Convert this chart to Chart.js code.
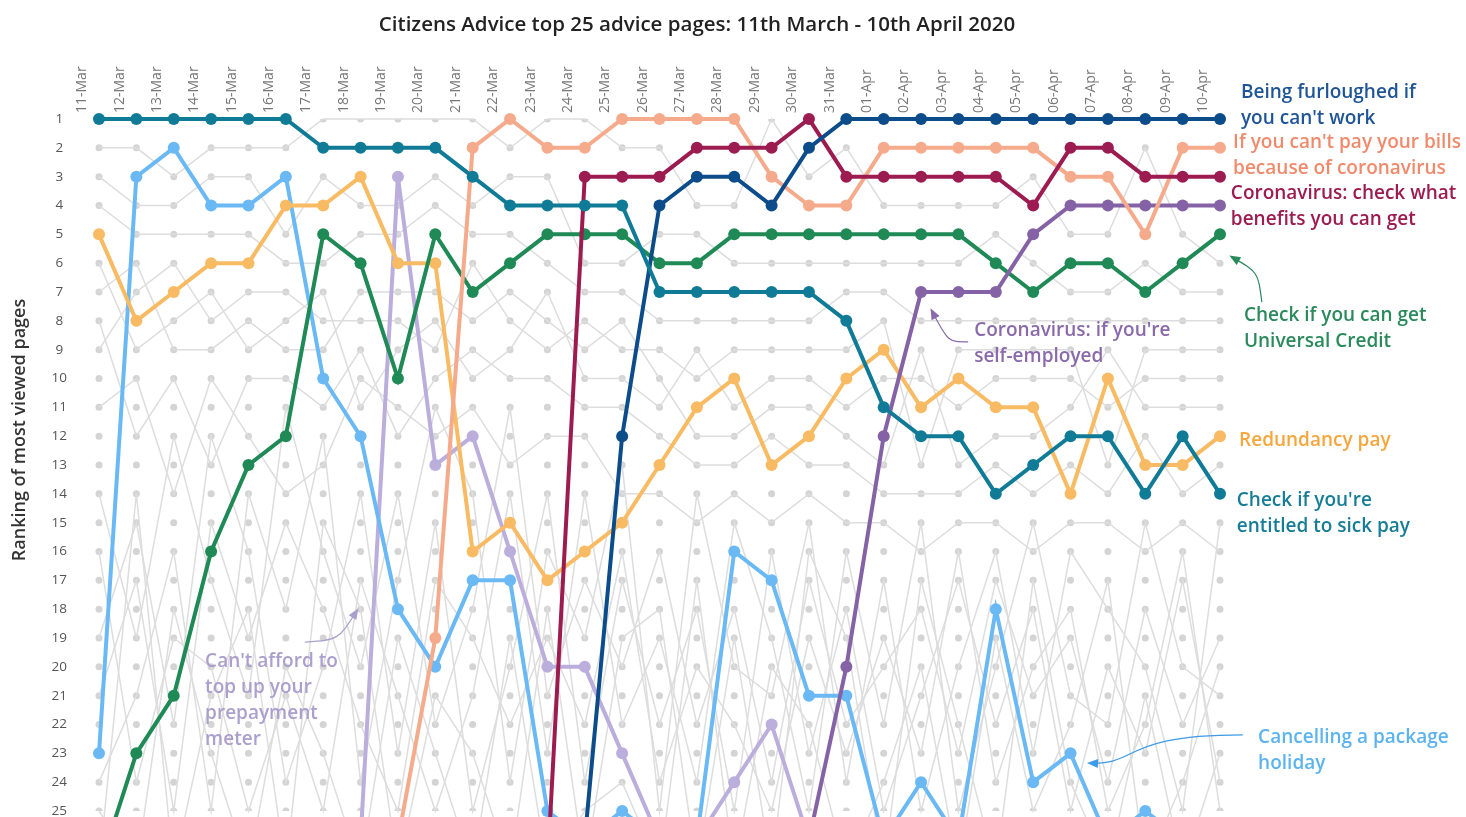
<!DOCTYPE html>
<html>
<head>
<meta charset="utf-8">
<script src="https://cdn.jsdelivr.net/npm/chart.js@4.4.1/dist/chart.umd.min.js"></script>
<style>
	html, body { margin: 0; padding: 0; background: #fff; }
	#wrap { width: 1466px; height: 817px; position: relative; }
</style>
</head>
<body>
<div id="wrap"><canvas id="rankChart"></canvas></div>
<script>
// dates along the top, ranks down the side
var dates = ['11-Mar','12-Mar','13-Mar','14-Mar','15-Mar','16-Mar','17-Mar','18-Mar','19-Mar','20-Mar',
	'21-Mar','22-Mar','23-Mar','24-Mar','25-Mar','26-Mar','27-Mar','28-Mar','29-Mar','30-Mar','31-Mar',
	'01-Apr','02-Apr','03-Apr','04-Apr','05-Apr','06-Apr','07-Apr','08-Apr','09-Apr','10-Apr'];
var rankTicks = [1,2,3,4,5,6,7,8,9,10,11,12,13,14,15,16,17,18,19,20,21,22,23,24,25];

// highlighted pages (rank per day, 26+ = just outside the top 25)
var furloughed = [null,null,null,null,null,null,null,null,null,null,null,null,null,26,12,4,3,3,4,2,1,1,1,1,1,1,1,1,1,1,1];
var unpaidBills = [null,null,null,null,null,null,null,null,26,19,2,1,2,2,1,1,1,1,3,4,4,2,2,2,2,2,3,3,5,2,2];
var checkBenefits = [null,null,null,null,null,null,null,null,null,null,null,null,27,3,3,3,2,2,2,1,3,3,3,3,3,4,2,2,3,3,3];
var selfEmployed = [null,null,null,null,null,null,null,null,null,null,null,null,null,null,null,null,null,null,null,26,20,12,7,7,7,5,4,4,4,4,4];
var universalCredit = [27,23,21,16,13,12,5,6,10,5,7,6,5,5,5,6,6,5,5,5,5,5,5,5,6,7,6,6,7,6,5];
var redundancyPay = [5,8,7,6,6,4,4,3,6,6,16,15,17,16,15,13,11,10,13,12,10,9,11,10,11,11,14,10,13,13,12];
var sickPay = [1,1,1,1,1,1,2,2,2,2,3,4,4,4,4,7,7,7,7,7,8,11,12,12,14,13,12,12,14,12,14];
var packageHoliday = [23,3,2,4,4,3,10,12,18,20,17,17,25,26,25,26,26,16,17,21,21,26,24,26,18,24,23,26,25,26,26];
var prepaymentMeter = [null,null,null,null,null,null,null,26,3,13,12,16,20,20,23,26,26,24,22,26,null,null,null,null,null,null,null,null,null,null,null];

// other pages in the top 25 (grey background)
var other1 = [2,2,3,2,2,2,1,1,1,1,1,2,1,1,2,2,4,4,1,3,2,4,4,4,4,3,5,5,2,5,6];
var other2 = [3,4,4,3,3,5,3,4,4,3,4,3,3,6,6,5,5,6,6,6,6,6,6,6,5,6,7,7,6,7,7];
var other3 = [4,5,5,5,5,6,6,5,5,4,5,5,6,7,7,8,8,8,8,8,7,7,8,8,8,8,8,8,8,8,8];
var other4 = [6,9,8,7,9,8,7,11,9,8,10,9,7,10,10,11,9,11,10,10,11,10,10,11,10,10,10,11,10,10,10];
var other5 = [7,6,9,9,8,9,9,7,7,7,8,7,8,9,8,10,12,12,11,11,12,13,9,13,12,12,11,9,11,11,11];
var other6 = [9,7,6,8,7,7,8,8,8,9,6,8,9,8,9,9,10,9,9,9,9,8,13,9,9,9,9,13,9,9,9];
var other7 = [8,12,10,13,10,10,11,9,12,10,9,10,10,11,11,12,13,13,12,13,13,14,14,14,13,14,13,14,12,14,13];
var other8 = [11,10,14,10,12,14,13,10,11,12,11,13,12,12,14,14,15,14,15,14,15,15,16,15,15,16,15,15,16,15,16];
var other9 = [14,19,12,17,21,11,16,20,14,22,18,11,21,17,20,16,22,18,24,17,22,20,18,23,17,21,19,24,18,22,19];
var other10 = [19,15,22,12,16,24,20,14,23,15,25,20,14,24,17,22,18,25,16,23,18,25,21,17,22,18,25,20,23,17,24];
var other11 = [24,21,16,25,14,18,12,24,17,11,14,24,16,19,13,25,14,20,21,15,24,17,25,20,16,23,16,18,20,25,15];
var other12 = [16,24,19,20,25,21,25,17,21,25,21,14,23,14,22,19,24,15,19,25,16,22,15,25,20,15,21,22,15,20,21];
var other13 = [21,17,25,15,19,15,18,22,25,17,19,22,19,22,16,24,20,22,25,19,23,19,23,16,24,20,18,25,22,16,25];
var other14 = [25,27,18,23,27,20,23,27,19,23,27,19,27,25,24,27,17,27,20,22,27,24,20,27,19,25,22,17,27,24,20];
var other15 = [27,14,27,21,18,27,15,18,27,21,23,27,18,27,19,18,27,19,27,16,19,27,17,22,27,17,24,27,21,27,23];

var highlighted = [
	{ data: sickPay, color: '#107b96' },
	{ data: furloughed, color: '#0c4c8a' },
	{ data: checkBenefits, color: '#9c1b50' },
	{ data: unpaidBills, color: '#f6aa8c' },
	{ data: selfEmployed, color: '#8562a6' },
	{ data: universalCredit, color: '#1f8a56' },
	{ data: redundancyPay, color: '#f8bb64' },
	{ data: packageHoliday, color: '#6ab9f5' },
	{ data: prepaymentMeter, color: '#bbaedc' }
];
var others = [other1, other2, other3, other4, other5, other6, other7, other8,
	other9, other10, other11, other12, other13, other14, other15];

var datasets = [];
highlighted.forEach(function(h, i){
	datasets.push({
		data: h.data,
		borderColor: h.color,
		backgroundColor: h.color,
		borderWidth: 4,
		pointRadius: 6,
		pointBorderWidth: 0,
		pointBackgroundColor: h.color,
		spanGaps: false,
		clip: false,
		order: i
	});
});
others.forEach(function(o){
	datasets.push({
		data: o,
		borderColor: '#dddddd',
		borderWidth: 1.5,
		pointRadius: 0,
		clip: false,
		order: 20
	});
});
// grey dot at every rank slot of every day
var grid = [];
dates.forEach(function(d){
	rankTicks.forEach(function(r){ grid.push({ x: d, y: r }); });
});
datasets.push({
	data: grid,
	showLine: false,
	pointRadius: 3.5,
	pointBorderWidth: 0,
	pointBackgroundColor: '#d4d4d4',
	order: 30
});

// labels and arrows, in data coordinates (x = day index, y = rank)
var notes = [
	{ lines: ['Being furloughed if', "you can't work"], x: 30.56, y: 0.1, color: '#1f5596' },
	{ lines: ["If you can't pay your bills", 'because of coronavirus'], x: 30.35, y: 1.83, color: '#f08a6c' },
	{ lines: ['Coronavirus: check what', 'benefits you can get'], x: 30.29, y: 3.57, color: '#9c1b50' },
	{ lines: ['Check if you can get', 'Universal Credit'], x: 30.64, y: 7.83, color: '#2b8a5c' },
	{ lines: ['Redundancy pay'], x: 30.51, y: 12.17, color: '#f5a73e' },
	{ lines: ["Check if you're", 'entitled to sick pay'], x: 30.45, y: 14.25, color: '#177d96' },
	{ lines: ['Cancelling a package', 'holiday'], x: 31.02, y: 22.47, color: '#5cb3ee' },
	{ lines: ["Coronavirus: if you're", 'self-employed'], x: 23.42, y: 8.35, color: '#8a6aaa' },
	{ lines: ["Can't afford to", 'top up your', 'prepayment', 'meter'], x: 2.84, y: 19.83, color: '#ab9fcd' }
];
var arrows = [
	{ pts: [[31.12, 7.35], [31.02, 6.31], [31.02, 6.31], [30.32, 5.79]], color: '#2b8a5c' },
	{ pts: [[23.26, 8.73], [22.72, 8.73], [22.72, 8.73], [22.29, 7.66]], color: '#8a6aaa' },
	{ pts: [[5.51, 19.14], [6.4, 19.07], [6.4, 19.07], [6.9, 18.06]], color: '#ab9fcd' },
	{ pts: [[30.61, 22.36], [27.32, 22.36], [27.86, 23.4], [26.52, 23.34]], color: '#3d9be6' }
];

var notesPlugin = {
	id: 'notes',
	afterDraw: function(chart){
		var ctx = chart.ctx;
		var sx = chart.scales.x, sy = chart.scales.y;
		ctx.save();
		ctx.fillStyle = '#222';
		ctx.font = '600 20.5px "Open Sans"';
		ctx.textAlign = 'center';
		ctx.textBaseline = 'middle';
		ctx.fillText('Citizens Advice top 25 advice pages: 11th March - 10th April 2020', 697, 25);

		// y axis title
		ctx.save();
		ctx.translate(20, 430);
		ctx.rotate(-Math.PI / 2);
		ctx.fillStyle = '#333';
		ctx.font = '600 18px "Open Sans"';
		ctx.fillText('Ranking of most viewed pages', 0, 0);
		ctx.restore();

		ctx.font = '600 19px "Open Sans"';
		ctx.textAlign = 'left';
		notes.forEach(function(n){
			ctx.fillStyle = n.color;
			var x = sx.getPixelForValue(n.x);
			var y = sy.getPixelForValue(n.y);
			n.lines.forEach(function(line, k){
				ctx.fillText(line, x, y + k * 26);
			});
		});

		arrows.forEach(function(a){
			var p = a.pts.map(function(q){ return [sx.getPixelForValue(q[0]), sy.getPixelForValue(q[1])]; });
			ctx.strokeStyle = a.color;
			ctx.fillStyle = a.color;
			ctx.lineWidth = 1.2;
			ctx.beginPath();
			ctx.moveTo(p[0][0], p[0][1]);
			ctx.bezierCurveTo(p[1][0], p[1][1], p[2][0], p[2][1], p[3][0], p[3][1]);
			ctx.stroke();
			var ang = Math.atan2(p[3][1] - p[2][1], p[3][0] - p[2][0]);
			ctx.beginPath();
			ctx.moveTo(p[3][0] + 3 * Math.cos(ang), p[3][1] + 3 * Math.sin(ang));
			ctx.lineTo(p[3][0] - 8 * Math.cos(ang) + 4.5 * Math.sin(ang), p[3][1] - 8 * Math.sin(ang) - 4.5 * Math.cos(ang));
			ctx.lineTo(p[3][0] - 8 * Math.cos(ang) - 4.5 * Math.sin(ang), p[3][1] - 8 * Math.sin(ang) + 4.5 * Math.cos(ang));
			ctx.closePath();
			ctx.fill();
		});
		ctx.restore();
	}
};

var chart = new Chart(document.getElementById('rankChart'), {
	type: 'line',
	data: { labels: dates, datasets: datasets },
	options: {
		responsive: true,
		maintainAspectRatio: false,
		animation: false,
		layout: { padding: { left: 0, right: 246, top: 0, bottom: 6 } },
		plugins: { legend: { display: false }, tooltip: { enabled: false }, title: { display: false } },
		elements: { line: { tension: 0 } },
		scales: {
			x: {
				position: 'top',
				offset: false,
				grid: { display: false, drawTicks: false },
				border: { display: false },
				ticks: {
					minRotation: 90,
					maxRotation: 90,
					autoSkip: false,
					padding: 6,
					color: '#777',
					font: { family: '"Open Sans"', size: 14 }
				},
				afterFit: function(scale){ scale.height = 119; }
			},
			y: {
				reverse: true,
				min: 1,
				max: 25,
				grid: { display: false, drawTicks: false },
				border: { display: false },
				ticks: {
					stepSize: 1,
					autoSkip: false,
					padding: 32,
					crossAlign: 'center',
					color: '#555',
					font: { family: '"Open Sans"', size: 13.5 },
					callback: function(v){ return rankTicks.indexOf(v) >= 0 ? String(v) : ''; }
				},
				afterFit: function(scale){
					scale.width = 99;
					scale.paddingTop = 0;
					scale.paddingBottom = 0;
				}
			}
		}
	},
	plugins: [notesPlugin]
});
</script>
</body>
</html>
